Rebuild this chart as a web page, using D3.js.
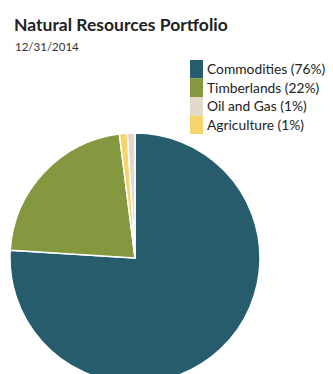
<!DOCTYPE html>
<html><head><meta charset="utf-8">
<script src="https://cdn.jsdelivr.net/npm/d3@7"></script>
<style>body{margin:0;background:#fff}svg{display:block}</style>
</head><body>
<script>
const categories = ["Commodities", "Timberlands", "Oil and Gas", "Agriculture"];
const values = [76, 22, 1, 1];
const legendLabels = ["Commodities (76%)", "Timberlands (22%)", "Oil and Gas (1%)", "Agriculture (1%)"];
const colors = ["#265c6c", "#84983f", "#e3d8cc", "#f6d36b"];
// clockwise drawing order seen in the picture
const pieOrder = ["Commodities", "Timberlands", "Agriculture", "Oil and Gas"];

const W = 333, H = 374;
const svg = d3.select("body").append("svg").attr("width", W).attr("height", H);
const font = "Lato, 'Open Sans', sans-serif";

svg.append("text").attr("x", 14).attr("y", 31).attr("font-family", font)
  .attr("font-weight", 700).attr("font-size", 17.5).attr("fill", "#222")
  .text("Natural Resources Portfolio");
svg.append("text").attr("x", 15).attr("y", 51).attr("font-family", font)
  .attr("font-size", 11.5).attr("fill", "#333").text("12/31/2014");

const data = categories.map((c, i) => ({cat: c, value: values[i], color: colors[i]}));
const pie = d3.pie().value(d => d.value)
  .sort((a, b) => pieOrder.indexOf(a.cat) - pieOrder.indexOf(b.cat));
const r = 125;
const arc = d3.arc().innerRadius(0).outerRadius(r);
const g = svg.append("g").attr("transform", "translate(135,258)");
g.selectAll("path").data(pie(data)).join("path")
  .attr("d", arc).attr("fill", d => d.data.color)
  .attr("stroke", "#fff").attr("stroke-width", 1.5).attr("stroke-linejoin", "round");

const y = d3.scaleBand().domain(categories).range([60, 134]).padding(0);
const leg = svg.append("g");
leg.selectAll("rect").data(data).join("rect")
  .attr("x", 190).attr("y", d => y(d.cat)).attr("width", 13).attr("height", y.bandwidth())
  .attr("fill", d => d.color);
leg.selectAll("text").data(data).join("text")
  .attr("x", 207).attr("y", d => y(d.cat) + y.bandwidth() / 2 + 4.8)
  .attr("font-family", font).attr("font-size", 13.8).attr("fill", "#222")
  .text((d, i) => legendLabels[i]);
</script>
</body></html>
